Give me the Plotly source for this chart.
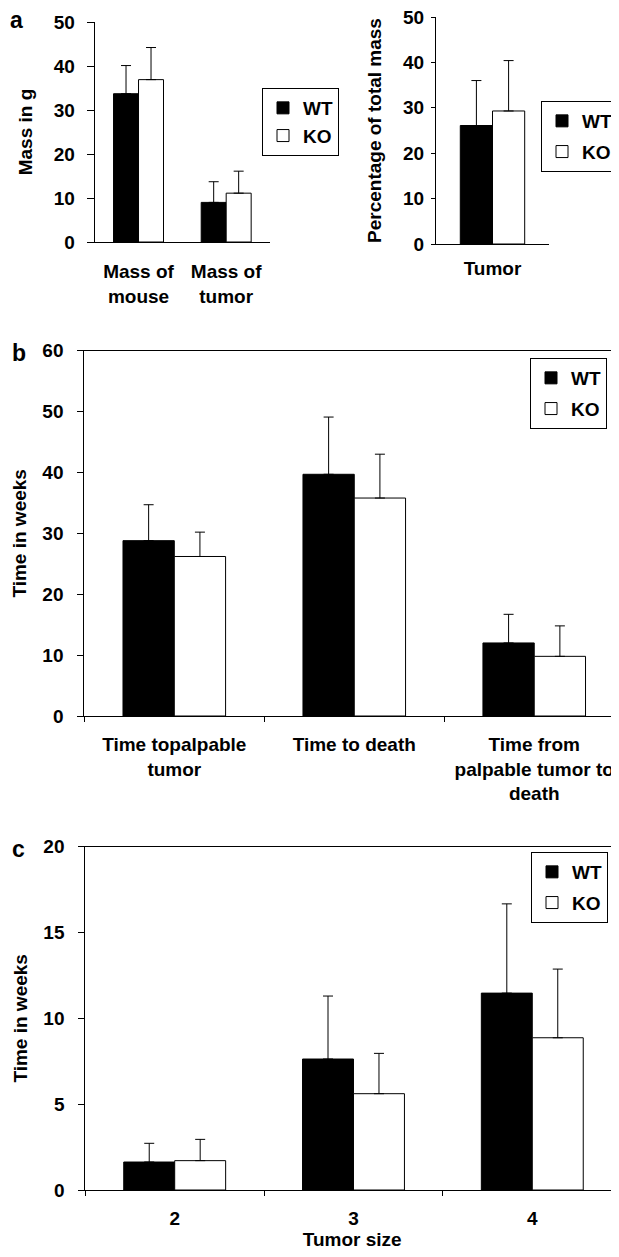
import plotly.graph_objects as go

# ---------------- data ----------------
series_names = ["WT", "KO"]

a_mass_categories = ["Mass of<br>mouse", "Mass of<br>tumor"]
a_mass_wt = [33.7, 9.0]
a_mass_wt_err = [6.4, 4.7]
a_mass_ko = [36.9, 11.1]
a_mass_ko_err = [7.3, 5.0]

a_pct_categories = ["Tumor"]
a_pct_wt = [26.1]
a_pct_wt_err = [9.9]
a_pct_ko = [29.3]
a_pct_ko_err = [11.1]

b_categories = ["Time topalpable<br>tumor", "Time to death",
                "Time from<br>palpable tumor to<br>death"]
b_wt = [28.8, 39.7, 12.0]
b_wt_err = [5.9, 9.4, 4.7]
b_ko = [26.2, 35.8, 9.8]
b_ko_err = [4.0, 7.2, 5.0]

c_categories = ["2", "3", "4"]
c_wt = [1.63, 7.63, 11.47]
c_wt_err = [1.09, 3.67, 5.2]
c_ko = [1.71, 5.61, 8.87]
c_ko_err = [1.24, 2.35, 4.0]

a_mass_ticks = [0, 10, 20, 30, 40, 50]
a_pct_ticks = [0, 10, 20, 30, 40, 50]
b_ticks = [0, 10, 20, 30, 40, 50, 60]
c_ticks = [0, 5, 10, 15, 20]

# ---------------- layout helpers ----------------
# page body has a default 8px margin, so the figure starts at (8, 8)
PAGE_W, PAGE_H, OFF = 619, 1257, 8
W, H = PAGE_W - OFF, PAGE_H - OFF
FONT = "Liberation Sans, Arial, sans-serif"
FS = 19


def fx(p):
    return (p - OFF) / W


def fy(p):
    return 1 - (p - OFF) / H


fig = go.Figure()

panels = [
    ("x", "y", "legend", a_mass_categories, a_mass_wt, a_mass_wt_err, a_mass_ko, a_mass_ko_err),
    ("x2", "y2", "legend2", a_pct_categories, a_pct_wt, a_pct_wt_err, a_pct_ko, a_pct_ko_err),
    ("x3", "y3", "legend3", b_categories, b_wt, b_wt_err, b_ko, b_ko_err),
    ("x4", "y4", "legend4", c_categories, c_wt, c_wt_err, c_ko, c_ko_err),
]

for i, (xa, ya, leg, cats, wt, wte, ko, koe) in enumerate(panels):
    for name, vals, errs, fill in [(series_names[0], wt, wte, "black"),
                                   (series_names[1], ko, koe, "white")]:
        fig.add_trace(go.Bar(
            x=cats, y=vals, name=name, xaxis=xa, yaxis=ya, legend=leg,
            legendgroup=f"{name}{i}",
            marker=dict(color=fill, line=dict(color="black", width=1)),
            error_y=dict(type="data", symmetric=False, array=errs,
                         arrayminus=[0] * len(errs), color="black",
                         thickness=1, width=5),
        ))

axis_line = dict(showline=True, linecolor="black", linewidth=1,
                 showgrid=False, zeroline=False, ticklabeloverflow="allow")
ytick = dict(ticks="outside", tickwidth=1, tickcolor="black")
tfont = dict(size=FS, family=FONT, weight="bold", color="black")

fig.update_layout(
    width=W, height=H,
    margin=dict(l=0, r=0, t=0, b=0, autoexpand=False),
    paper_bgcolor="white", plot_bgcolor="white",
    template="none",
    font=dict(family=FONT, size=FS, color="black", weight="bold"),
    barmode="group", bargap=0.43, bargroupgap=0,
    xaxis=dict(domain=[fx(94.7), fx(270)], anchor="y", type="category",
               range=[-0.5, 1.5], ticks="", ticklabelstandoff=12, **axis_line),
    yaxis=dict(domain=[fy(242), fy(22)], anchor="x", range=[0, 50],
               tickvals=a_mass_ticks, ticklen=7, ticklabelstandoff=8,
               title=dict(text="Mass in g", standoff=16, font=tfont),
               **ytick, **axis_line),
    xaxis2=dict(domain=[fx(436), fx(549)], anchor="y2", type="category",
                range=[-0.5, 0.5], ticks="", ticklabelstandoff=7, **axis_line),
    yaxis2=dict(domain=[fy(244), fy(17)], anchor="x2", range=[0, 50],
                tickvals=a_pct_ticks, ticklen=4, ticklabelstandoff=3,
                title=dict(text="Percentage of total mass", standoff=16, font=tfont),
                **ytick, **axis_line),
    xaxis3=dict(domain=[fx(84.3), 1], anchor="y3", type="category",
                range=[-0.5, 2.471], ticks="outside", tickson="boundaries",
                ticklen=5, tickcolor="black", mirror=True,
                ticklabelstandoff=11, **axis_line),
    yaxis3=dict(domain=[fy(716), fy(350.7)], anchor="x3", range=[0, 60],
                tickvals=b_ticks, ticklen=6, ticklabelstandoff=10,
                title=dict(text="Time in weeks", standoff=10, font=tfont),
                **ytick, **axis_line),
    xaxis4=dict(domain=[fx(85.3), 1], anchor="y4", type="category",
                range=[-0.5, 2.485], ticks="outside", tickson="boundaries",
                ticklen=5, tickcolor="black", mirror=True,
                ticklabelstandoff=11,
                title=dict(text="Tumor size", standoff=4, font=tfont), **axis_line),
    yaxis4=dict(domain=[fy(1190), fy(846.7)], anchor="x4", range=[0, 20],
                tickvals=c_ticks, ticklen=6, ticklabelstandoff=10,
                title=dict(text="Time in weeks", standoff=10, font=tfont),
                **ytick, **axis_line),
)

legend_style = dict(bgcolor="white", bordercolor="black", borderwidth=1,
                    xanchor="left", yanchor="top", font=dict(size=FS))
fig.update_layout(
    legend=dict(x=fx(262), y=fy(88), tracegroupgap=0, **legend_style),
    legend2=dict(x=fx(541), y=fy(101), tracegroupgap=3, **legend_style),
    legend3=dict(x=fx(530), y=fy(358), tracegroupgap=3, **legend_style),
    legend4=dict(x=fx(531), y=fy(852), tracegroupgap=3, **legend_style),
)

for letter, cx, cy in [("a", 16.5, 20), ("b", 18.5, 353), ("c", 18, 849)]:
    fig.add_annotation(text=letter, x=fx(cx), y=fy(cy), xref="paper", yref="paper",
                       showarrow=False, xanchor="center", yanchor="middle",
                       font=dict(size=23, family=FONT, weight="bold"))

fig.write_html("out.html")
